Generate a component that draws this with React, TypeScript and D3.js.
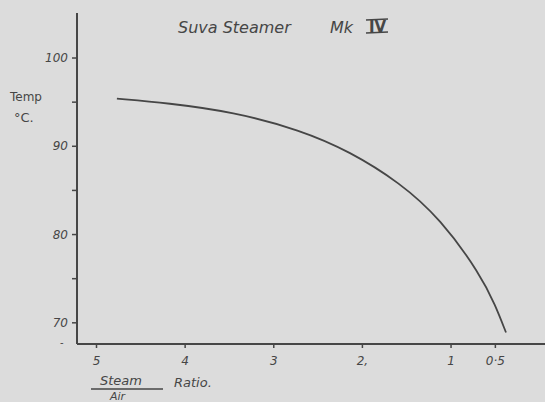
import React from 'react';
import * as d3 from 'd3';

// steam/air ratio and temperature in degrees C
const ratio = [4.77, 4.2, 3.46, 2.7, 2.14, 1.58, 1.12, 0.67, 0.5, 0.38];
const temp = [95.4, 94.9, 93.9, 91.85, 89.4, 85.9, 81.8, 75.5, 72.0, 68.9];

const xTicks = [5, 4, 3, 2, 1, 0.5];
const xTickLabels = ['5', '4', '3', '2,', '1', '0·5'];
const yTicks = [70, 75, 80, 85, 90, 95, 100];
const yTickLabels = ['70', '', '80', '', '90', '', '100'];

const W = 545;
const H = 402;
const ink = '#464646';
const font = '"DejaVu Sans", sans-serif';

export default function App() {
  const x = d3.scaleLinear().domain([5.22, -0.06]).range([77, 545]);
  const y = d3.scaleLinear().domain([67.6, 105.1]).range([344, 13]);

  const points = ratio.map((r, i) => [r, temp[i]] as [number, number]);
  const line = d3
    .line<[number, number]>()
    .x(d => x(d[0]))
    .y(d => y(d[1]))
    .curve(d3.curveBasis);

  const x0 = x.range()[0];
  const yBottom = y.range()[0];

  return (
    <svg
      width={W}
      height={H}
      style={{ position: 'absolute', left: 0, top: 0, background: '#dcdcdc' }}
    >
      <rect width={W} height={H} fill="#dcdcdc" />

      {/* title */}
      <text x={178} y={33} fontFamily={font} fontSize={16} fill={ink} fontStyle="italic">
        Suva Steamer
      </text>
      <text x={330} y={33} fontFamily={font} fontSize={16} fill={ink} fontStyle="italic">
        Mk
      </text>
      <text x={369} y={32} fontFamily={font} fontSize={15} fill={ink} fontWeight="bold">
        IV
      </text>
      <line x1={366} x2={388} y1={20} y2={19} stroke={ink} strokeWidth={1.5} />
      <line x1={366} x2={388} y1={33} y2={32} stroke={ink} strokeWidth={1.5} />

      {/* y axis */}
      <line x1={x0} x2={x0} y1={y.range()[1]} y2={yBottom} stroke={ink} strokeWidth={2} />
      {yTicks.map((t, i) => (
        <g key={t} transform={`translate(0,${y(t)})`}>
          <line x1={x0 - 5} x2={x0} stroke={ink} strokeWidth={1.5} />
          {yTickLabels[i] && (
            <text
              x={x0 - 9}
              dy="0.35em"
              textAnchor="end"
              fontFamily={font}
              fontSize={12}
              fontStyle="italic"
              fill={ink}
            >
              {yTickLabels[i]}
            </text>
          )}
        </g>
      ))}
      <text x={60} y={yBottom + 2} fontFamily={font} fontSize={10} fill={ink}>-</text>

      {/* x axis */}
      <line x1={x0} x2={W} y1={yBottom} y2={yBottom} stroke={ink} strokeWidth={2} />
      {xTicks.map((t, i) => (
        <g key={t} transform={`translate(${x(t)},${yBottom})`}>
          <line y1={0} y2={4} stroke={ink} strokeWidth={1.5} />
          <text
            y={21}
            textAnchor="middle"
            fontFamily={font}
            fontSize={12}
            fontStyle="italic"
            fill={ink}
          >
            {xTickLabels[i]}
          </text>
        </g>
      ))}

      {/* axis titles */}
      <text x={10} y={101} fontFamily={font} fontSize={12} fill={ink}>Temp</text>
      <text x={14} y={122} fontFamily={font} fontSize={13} fill={ink}>°C.</text>

      <text x={100} y={385} fontFamily={font} fontSize={13} fill={ink} fontStyle="italic">Steam</text>
      <line x1={91} x2={163} y1={389} y2={389} stroke={ink} strokeWidth={1.5} />
      <text x={110} y={400} fontFamily={font} fontSize={11} fill={ink} fontStyle="italic">Air</text>
      <text x={174} y={387} fontFamily={font} fontSize={13} fill={ink} fontStyle="italic">Ratio.</text>

      {/* curve */}
      <path d={line(points) ?? ''} fill="none" stroke={ink} strokeWidth={1.8} />
    </svg>
  );
}
